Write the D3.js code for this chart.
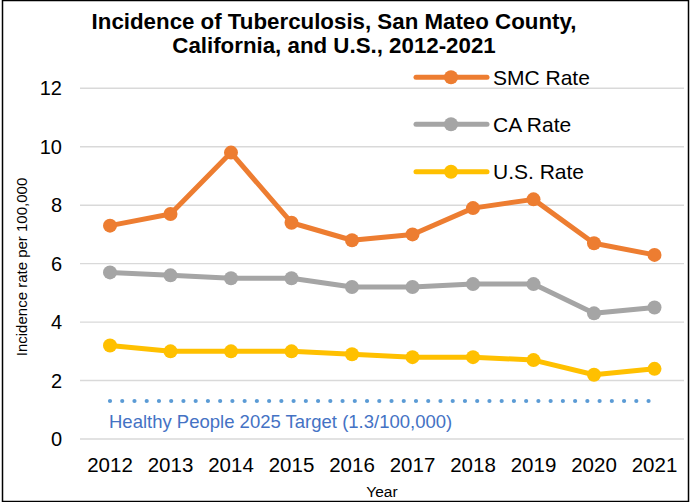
<!DOCTYPE html>
<html>
<head>
<meta charset="utf-8">
<script src="https://cdn.jsdelivr.net/npm/d3@7"></script>
<style>
  body { margin: 0; background: #fff; }
  svg text { font-family: Arial, "Liberation Sans", sans-serif; }
</style>
</head>
<body>
<svg id="chart" width="692" height="502"></svg>
<script>
// data
var years = ["2012","2013","2014","2015","2016","2017","2018","2019","2020","2021"]
var smcRate = [7.3, 7.7, 9.8, 7.4, 6.8, 7.0, 7.9, 8.2, 6.7, 6.3]
var caRate  = [5.7, 5.6, 5.5, 5.5, 5.2, 5.2, 5.3, 5.3, 4.3, 4.5]
var usRate  = [3.2, 3.0, 3.0, 3.0, 2.9, 2.8, 2.8, 2.7, 2.2, 2.4]
var targetValue = 1.3
var yTicks = [0, 2, 4, 6, 8, 10, 12]

var seriesNames = ["SMC Rate", "CA Rate", "U.S. Rate"]
var seriesColors = ["#ED7D31", "#A5A5A5", "#FFC000"]

const svg = d3.select('#chart')

//outer chart border
svg.append("rect").attr("x", 2.5).attr("y", 0.5).attr("width", 686).attr("height", 501)
  .attr("fill", "white").attr("stroke", "black").attr("stroke-width", 1.5)

//scales
const x = d3.scalePoint().domain(years).range([79.75, 684.75]).padding(0.5)
const y = d3.scaleLinear().domain([0, 12]).range([439, 88.3])

//gridlines
svg.append("g").selectAll("line")
  .data(yTicks)
  .join("line")
  .attr("x1", 80).attr("x2", 684)
  .attr("y1", d => y(d)).attr("y2", d => y(d))
  .attr("stroke", "#d9d9d9").attr("stroke-width", 1.4)

//y tick labels
svg.append("g").selectAll("text")
  .data(yTicks)
  .join("text")
  .attr("x", 62).attr("y", d => y(d))
  .attr("text-anchor", "end").attr("dominant-baseline", "central")
  .style("font-size", "20px").attr("fill", "#000")
  .text(d => d)

//x tick labels
svg.append("g").selectAll("text")
  .data(years)
  .join("text")
  .attr("x", d => x(d)).attr("y", 472)
  .attr("text-anchor", "middle")
  .style("font-size", "20.5px").attr("fill", "#000")
  .text(d => d)

//title
svg.append("text").attr("x", 334).attr("y", 29).attr("text-anchor", "middle")
  .style("font-size", "22.3px").style("font-weight", "bold")
  .text("Incidence of Tuberculosis, San Mateo County,")
svg.append("text").attr("x", 334).attr("y", 53).attr("text-anchor", "middle")
  .style("font-size", "22.3px").style("font-weight", "bold")
  .text("California, and U.S., 2012-2021")

//axis titles
svg.append("text")
  .attr("transform", "translate(27,267) rotate(-90)")
  .attr("text-anchor", "middle")
  .style("font-size", "15px")
  .text("Incidence rate per 100,000")
svg.append("text").attr("x", 382).attr("y", 497).attr("text-anchor", "middle")
  .style("font-size", "15.5px")
  .text("Year")

//target line
svg.append("line")
  .attr("x1", x("2012")).attr("x2", x("2021"))
  .attr("y1", y(targetValue)).attr("y2", y(targetValue))
  .attr("stroke", "#5B9BD5").attr("stroke-width", 4.2)
  .attr("stroke-linecap", "round").attr("stroke-dasharray", "0 12.24")
svg.append("text").attr("x", 109).attr("y", 428)
  .style("font-size", "18.5px").attr("fill", "#4472C4")
  .text("Healthy People 2025 Target (1.3/100,000)")

//the three series
var allSeries = [smcRate, caRate, usRate]
const line = d3.line().x((d, i) => x(years[i])).y(d => y(d))

allSeries.forEach(function(values, k){
  svg.append("path").datum(values)
    .attr("d", line)
    .attr("fill", "none")
    .attr("stroke", seriesColors[k]).attr("stroke-width", 5)
    .attr("stroke-linejoin", "round")
  svg.append("g").selectAll("circle")
    .data(values)
    .join("circle")
    .attr("cx", (d, i) => x(years[i])).attr("cy", d => y(d))
    .attr("r", 7).attr("fill", seriesColors[k])
})

//legend
var legendY = [77.3, 124.3, 171.7]
seriesNames.forEach(function(name, k){
  var g = svg.append("g")
  g.append("line").attr("x1", 416).attr("x2", 487).attr("y1", legendY[k]).attr("y2", legendY[k])
    .attr("stroke", seriesColors[k]).attr("stroke-width", 5).attr("stroke-linecap", "round")
  g.append("circle").attr("cx", 451).attr("cy", legendY[k]).attr("r", 7).attr("fill", seriesColors[k])
  g.append("text").attr("x", 493).attr("y", legendY[k]).attr("dominant-baseline", "central")
    .style("font-size", "21px").text(name)
})
</script>
</body>
</html>
